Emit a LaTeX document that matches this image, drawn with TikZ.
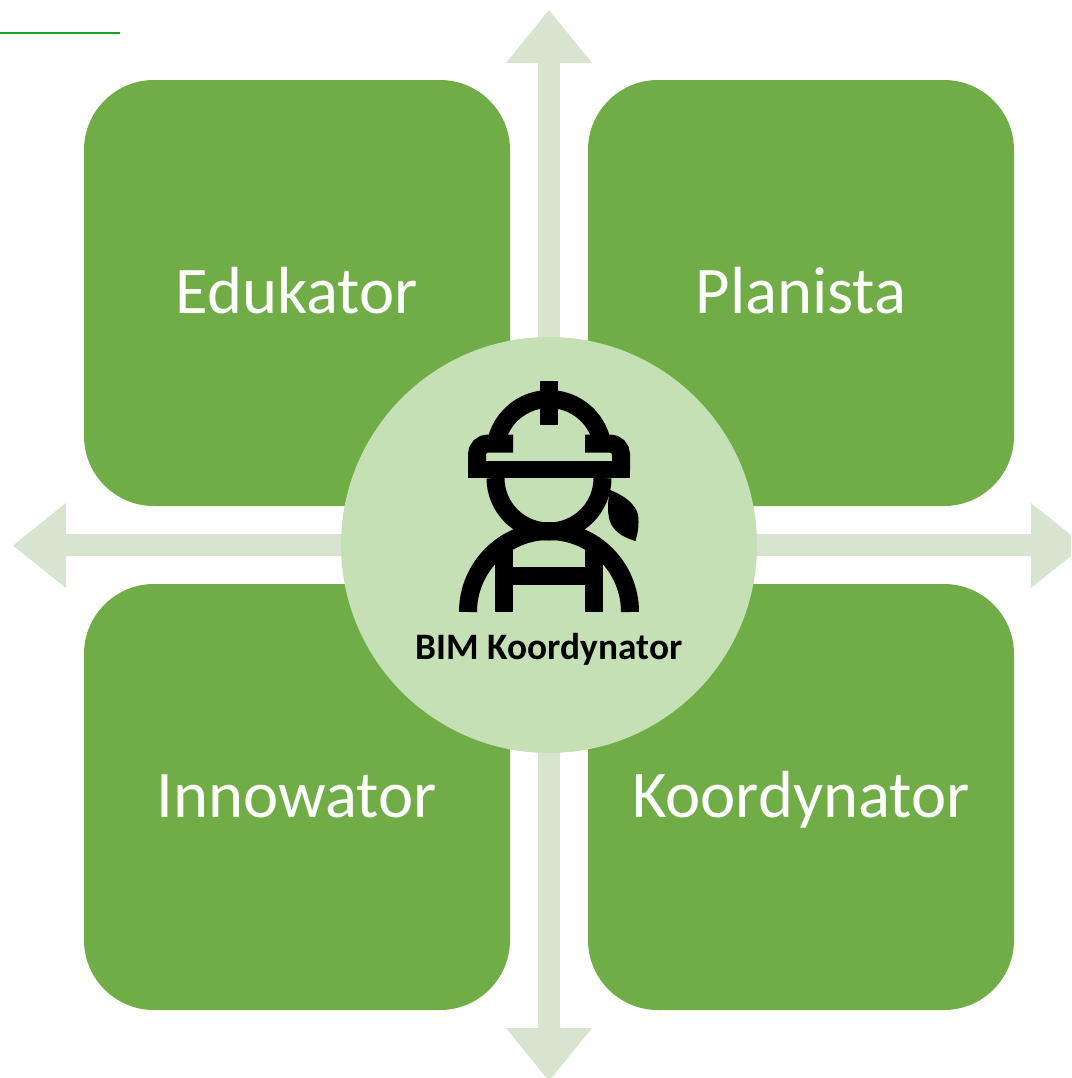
\documentclass[tikz,border=0pt]{standalone}
\usepackage{fontspec}
\setmainfont{Carlito}
\definecolor{boxgreen}{HTML}{70AD47}
\definecolor{hubgreen}{HTML}{C5E0B4}
\definecolor{arrowgreen}{HTML}{D7E4D0}
\definecolor{linegreen}{HTML}{22A022}
\tikzset{
  rolebox/.style={fill=boxgreen,rounded corners=52.5pt,minimum width=319.5pt,minimum height=319.5pt,inner sep=0pt,text=white,font=\fontsize{50}{50}\selectfont,text height=38pt,text depth=7pt},
  hub/.style={circle,fill=hubgreen,minimum size=312pt,inner sep=0pt},
  icon/.style={line width=13.5pt,black},
  crossarrow/.style={fill=arrowgreen}
}
\begin{document}
\begin{tikzpicture}[x=0.75pt,y=-0.75pt]
\useasboundingbox (0,0) rectangle (1071,1078);
\clip (0,0) rectangle (1071,1078);
% four-way arrow
\fill[crossarrow] (549,10) -- (592,63) -- (560,63) -- (560,534) -- (1031,534) -- (1031,503) -- (1084,545.5) -- (1031,588) -- (1031,556) -- (560,556) -- (560,1028) -- (592,1028) -- (549,1081) -- (506,1028) -- (538,1028) -- (538,556) -- (66,556) -- (66,588) -- (13,545.5) -- (66,503) -- (66,534) -- (538,534) -- (538,63) -- (506,63) -- cycle;
% top-left rule
\coordinate (ruleA) at (0,33);
\coordinate (ruleB) at (120,33);
\draw[linegreen,line width=2pt] (ruleA) -- (ruleB);
% role boxes
\node[rolebox] (edu) at (297,293) {Edukator};
\node[rolebox] (pla) at (801,293) {Planista};
\node[rolebox] (inn) at (297,797) {Innowator};
\node[rolebox] (koo) at (801,797) {Koordynator};
% hub
\node[hub] (hubc) at (549,545) {};
% icon: helmet
\fill[black] (540,381) rectangle (558,425);
\draw[icon] (497,445) -- (498.1,435) arc[start angle=-160.5,end angle=-19.5,radius=54] -- (601,445);
\draw[icon,line cap=butt] (513,443.5) -- (488,443.5) arc[start angle=-90,end angle=-180,radius=11] -- (477,470);
\draw[icon,line cap=butt] (585,443.5) -- (610,443.5) arc[start angle=-90,end angle=0,radius=11] -- (621,470);
\fill[black] (468,460.7) rectangle (629.5,478.3);
% icon: face
\draw[icon] (495.5,478) arc[start angle=-180,end angle=-360,radius=53.5];
% icon: body
\draw[icon] (468,612) arc[start angle=-180,end angle=0,radius=81];
\fill[black] (495,540) rectangle (513,612);
\fill[black] (585,540) rectangle (603,612);
\fill[black] (513,567.3) rectangle (585,585);
% icon: ponytail
\fill[black] (610,490) .. controls (628,497) and (640,508) .. (638.5,522) .. controls (638.5,530) and (637,535) .. (635.5,541) .. controls (622,537) and (610,530) .. (608.5,515) .. controls (607.5,507) and (608,500) .. cycle;
% hub label
\node[font=\bfseries\fontsize{28}{28}\selectfont,inner sep=0pt,text=black] (hublabel) at (549,649) {BIM Koordynator};
\end{tikzpicture}
\end{document}
